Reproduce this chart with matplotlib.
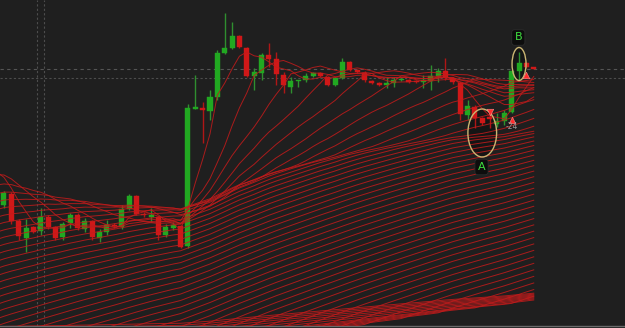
import numpy as np
import pandas as pd
import matplotlib
matplotlib.use('Agg')
import matplotlib.pyplot as plt
from matplotlib.patches import Ellipse

# 보이는 캔들 (시가 / 종가 / 고가 / 저가)
opens = [39.5, 40.6, 37.9, 36.2, 37.3, 36.9, 38.3, 37.3, 36.3, 37.7,
         38.5, 37.1, 37.9, 36.2, 36.8, 37.5, 37.3, 39.1, 40.4, 38.6,
         38.3, 38.3, 36.5, 37.2, 37.4, 35.4, 49.15, 49.2, 48.9, 50.3,
         54.7, 55.2, 56.4, 55.2, 52.4, 52.7, 54.5, 54.1, 52.5, 51.3,
         51.9, 52.0, 52.4, 52.7, 52.3, 51.5, 52.2, 53.8, 53.0, 52.7,
         51.9, 51.7, 51.5, 51.7, 52.0, 52.0, 51.9, 51.8, 51.9, 52.4,
         52.9, 52.2, 51.7, 48.5, 49.3, 48.2, 48.3, 47.6, 47.9, 48.8,
         52.9, 53.7, 53.3]
closes = [40.7, 37.9, 36.4, 37.2, 36.8, 38.3, 37.3, 36.2, 37.6, 38.5,
          37.2, 37.9, 36.3, 36.8, 37.5, 37.45, 39.1, 40.4, 38.6, 38.5,
          38.5, 36.5, 37.3, 37.5, 35.3, 49.2, 49.25, 49.0, 50.3, 54.7,
          55.2, 56.4, 55.3, 52.4, 52.8, 54.5, 54.1, 52.6, 51.5, 51.9,
          52.0, 52.4, 52.7, 52.4, 51.5, 52.2, 53.8, 53.0, 52.8, 52.0,
          51.7, 51.5, 51.7, 52.0, 52.1, 51.8, 51.8, 52.0, 52.4, 52.9,
          52.2, 51.8, 48.6, 49.4, 48.2, 47.7, 48.1, 47.9, 48.7, 52.9,
          53.7, 53.3, 53.15]
highs = [40.9, 40.8, 38.1, 38.1, 37.4, 39.2, 38.5, 37.4, 37.8, 38.7,
         38.7, 38.2, 38.0, 37.1, 38.0, 37.7, 39.5, 40.6, 40.5, 38.8,
         39.2, 38.4, 37.6, 37.8, 37.5, 49.6, 52.5, 49.8, 51.0, 55.0,
         58.7, 57.8, 56.5, 55.3, 53.2, 54.7, 55.7, 54.8, 52.8, 52.3,
         52.0, 52.7, 52.8, 52.8, 52.4, 52.3, 54.2, 53.9, 53.1, 52.9,
         52.0, 51.8, 52.3, 52.3, 52.2, 52.1, 52.0, 52.5, 53.5, 53.2,
         54.2, 52.3, 51.8, 50.0, 49.5, 48.3, 48.9, 48.7, 49.0, 53.0,
         54.8, 53.8, 53.35]
lows = [39.2, 37.6, 36.0, 34.8, 36.7, 36.5, 37.1, 36.0, 36.0, 37.2,
        37.0, 36.8, 36.0, 35.8, 36.5, 37.2, 37.1, 39.0, 38.5, 38.3,
        37.8, 36.0, 36.3, 37.0, 35.2, 35.2, 49.1, 45.7, 48.0, 50.0,
        54.6, 55.1, 55.2, 52.3, 51.0, 52.0, 53.3, 51.5, 50.7, 50.7,
        51.3, 51.8, 52.3, 52.3, 51.4, 51.4, 52.1, 52.9, 52.7, 51.8,
        51.6, 51.4, 51.2, 51.3, 51.9, 51.7, 51.7, 51.2, 51.0, 51.8,
        52.0, 51.6, 48.0, 48.0, 47.2, 47.5, 47.2, 47.3, 47.5, 48.7,
        52.0, 53.2, 53.1]

# 화면 왼쪽 밖의 이전 종가 (리본 이동평균 계산용, 추정치)
# 오래된 횡보 구간
prior_flat = [
    33.9, 34.3, 33.7, 33.4, 34.0, 34.6, 34.2, 33.5, 33.1, 33.7,
    34.4, 34.8, 34.3, 33.6, 33.2, 33.8, 34.1, 33.5, 32.9, 33.3,
    34.0, 34.4, 33.8, 33.1, 32.7, 33.4, 33.9, 34.3, 33.6, 33.0,
    33.4, 34.1, 34.5, 33.9, 33.3, 33.7, 34.2, 33.6, 33.1, 32.8,
    33.3, 34.0, 33.6, 33.0, 32.6, 33.2, 33.8, 33.5, 32.9, 32.5,
    33.1, 33.7, 33.3, 32.7, 32.4, 33.0, 33.5, 33.1, 32.6, 33.2,
    33.8, 34.2, 33.7, 33.1, 32.7, 33.3, 33.9, 34.4, 33.8, 33.2,
    32.9, 33.5, 34.0, 33.6, 33.0, 32.5, 33.1, 33.7, 33.3, 32.8,
    33.2, 33.8, 34.3, 33.7, 33.1, 32.8, 33.4, 34.0, 33.5, 33.0,
    32.6, 33.2, 33.7, 33.3, 32.7, 32.3, 32.9, 33.5, 33.0, 32.5,
    33.1, 33.6, 33.2, 32.6, 32.2, 32.8, 33.4, 32.9, 32.4, 33.0,
    33.5, 33.1, 32.5, 32.1, 32.7, 33.3, 32.8, 32.3, 32.9, 33.4,
    33.0, 32.4, 32.0, 32.6, 33.2, 32.7, 32.2, 32.8, 33.3, 32.9,
    32.3, 31.9, 32.5, 33.1, 32.6, 32.1, 32.7, 33.2, 32.8, 32.2,
    31.8, 32.4, 33.0, 32.5, 32.0, 32.6, 33.1, 32.7, 32.1, 31.7]
# 급락 후 꾸준한 상승 구간
prior_trend = [
    0.6, 0.9, 0.8, 1.5, 1.4, 2.1, 2.0, 2.7, 2.5, 3.2,
    3.1, 3.8, 4.1, 3.9, 4.7, 4.6, 5.3, 5.1, 5.8, 6.1,
    6.0, 6.7, 6.6, 7.3, 7.1, 7.9, 7.7, 8.4, 8.2, 9.0,
    8.8, 9.5, 9.3, 10.1, 9.9, 10.6, 10.4, 11.1, 11.0, 11.8,
    11.6, 12.3, 12.1, 12.9, 12.7, 13.4, 13.2, 14.0, 13.8, 14.6,
    14.4, 15.2, 15.0, 15.7, 15.5, 16.3, 16.1, 16.8, 16.6, 17.5,
    17.3, 18.0, 17.8, 18.6, 18.4, 19.1, 18.9, 19.7, 19.5, 20.3,
    20.1, 20.9, 20.7, 21.4, 21.2, 22.0, 21.8, 22.5, 22.3, 23.2,
    23.0, 23.7, 23.5, 24.3, 24.1, 24.8, 24.6, 25.4, 25.2, 26.0,
    25.8, 26.6, 26.4, 27.1, 26.9, 27.7, 27.5, 28.2, 28.0, 28.9,
    28.7, 29.4, 29.2, 30.0, 29.8, 30.5, 30.3, 31.1, 30.9, 31.7,
    31.5, 32.3, 32.1, 32.8, 32.6, 33.4, 33.2, 33.9, 33.7, 34.5,
    34.4, 35.1, 34.9, 35.7, 35.5, 36.2, 36.0, 36.8, 36.6, 37.4,
    37.2, 38.0, 37.8, 38.5, 38.3, 39.1, 38.9, 39.6, 39.4, 40.2,
    41.0, 41.8, 42.4, 43.1, 42.8, 43.6, 43.3, 42.9, 42.5, 41.9]

# 리본 단순이동평균 기간
ribbon_periods = list(range(5, 230, 5)) + list(range(235, 305, 10))

# 주석 (A / B 표시, 신호 화살표)
crosshair_price = 52.25
crosshair_bars = [4.5, 5.45]
mark_a_bar, mark_b_bar = 65, 70
down_arrow_bars = [66]
up_arrow_bars = [69, 71]
signal_text = '-24'

bg = '#1f1f1f'
green, green_wick = '#21a821', '#2f8f2f'
red, red_wick = '#d01818', '#b01616'

fig = plt.figure(figsize=(6.25, 3.28), dpi=100, facecolor=bg)
ax = fig.add_axes([0, 2 / 328, 1, 326 / 328])
ax.set_facecolor(bg)

x = np.arange(len(closes))
o = np.array(opens)
c = np.array(closes)
up = c >= o
cols = np.where(up, green, red)
wcols = np.where(up, green_wick, red_wick)

# 캔들
ax.vlines(x, lows, highs, colors=wcols, lw=1.0, zorder=2)
body_h = np.maximum(np.abs(c - o), 0.08)
ax.bar(x, body_h, bottom=np.minimum(o, c), width=0.68, color=cols,
       edgecolor=cols, lw=0.3, zorder=2)

# 리본
prior_closes = prior_flat + prior_trend
all_closes = pd.Series(prior_closes + closes)
x_all = np.arange(-len(prior_closes), len(closes))
for p in ribbon_periods:
    sma = all_closes.rolling(p).mean()
    ax.plot(x_all, sma, color='#c21b1b', lw=0.7, alpha=0.85, zorder=3)

# 점선
ax.axhline(closes[-1], color='#555555', lw=0.8, ls=(0, (3, 3)), zorder=1)
ax.axhline(crosshair_price, color='#4d4d4d', lw=0.8, ls=(0, (2, 2)), zorder=1)
for b in crosshair_bars:
    ax.axvline(b, color='#4d4d4d', lw=0.8, ls=(0, (2, 2)), zorder=1)

# 타원 A, B
ell_a = (mark_a_bar, lows[mark_a_bar] - 0.8, 3.9, 4.8)
ell_b = (mark_b_bar, (highs[mark_b_bar] + lows[mark_b_bar]) / 2 + 0.2, 1.9, 3.3)
for cx, cy, w, h in [ell_a, ell_b]:
    ax.add_patch(Ellipse((cx, cy), w, h, facecolor='#151515', edgecolor='none', zorder=1.5))
    ax.add_patch(Ellipse((cx, cy), w, h, facecolor='none', edgecolor='#cbb673', lw=1.0, zorder=5))
box = dict(boxstyle='round,pad=0.25', fc='#0d0d0d', ec='#2c2c2c', lw=0.6)
ax.text(ell_a[0] - 0.1, ell_a[1] - ell_a[3] / 2 - 1.0, 'A', color='#3fe03f',
        fontsize=8, ha='center', va='center', bbox=box, zorder=6)
ax.text(ell_b[0] - 0.1, ell_b[1] + ell_b[3] / 2 + 1.0, 'B', color='#3fe03f',
        fontsize=8, ha='center', va='center', bbox=box, zorder=6)

# 신호 화살표
ax.scatter(down_arrow_bars, [highs[i] - 0.1 for i in down_arrow_bars], marker='v',
           s=22, color='#ff2d2d', edgecolors='#ff8a8a', linewidths=0.4, zorder=6)
ax.scatter(up_arrow_bars, [lows[i] - 0.7 for i in up_arrow_bars], marker='^',
           s=22, color='#ff2d2d', edgecolors='#ff8a8a', linewidths=0.4, zorder=6)
ax.text(up_arrow_bars[0], lows[up_arrow_bars[0]] - 1.4, signal_text, color='#9a9a9a',
        fontsize=5.5, ha='center', va='center', zorder=6)

ax.set_xlim(-0.54, 84.4)
ax.set_ylim(27.4, 60)
ax.set_xticks([])
ax.set_yticks([])
for s in ['top', 'left', 'right']:
    ax.spines[s].set_visible(False)
ax.spines['bottom'].set_color('#6a6a6a')
ax.spines['bottom'].set_linewidth(1.0)

fig.savefig('out.png', dpi=100, facecolor=bg)
